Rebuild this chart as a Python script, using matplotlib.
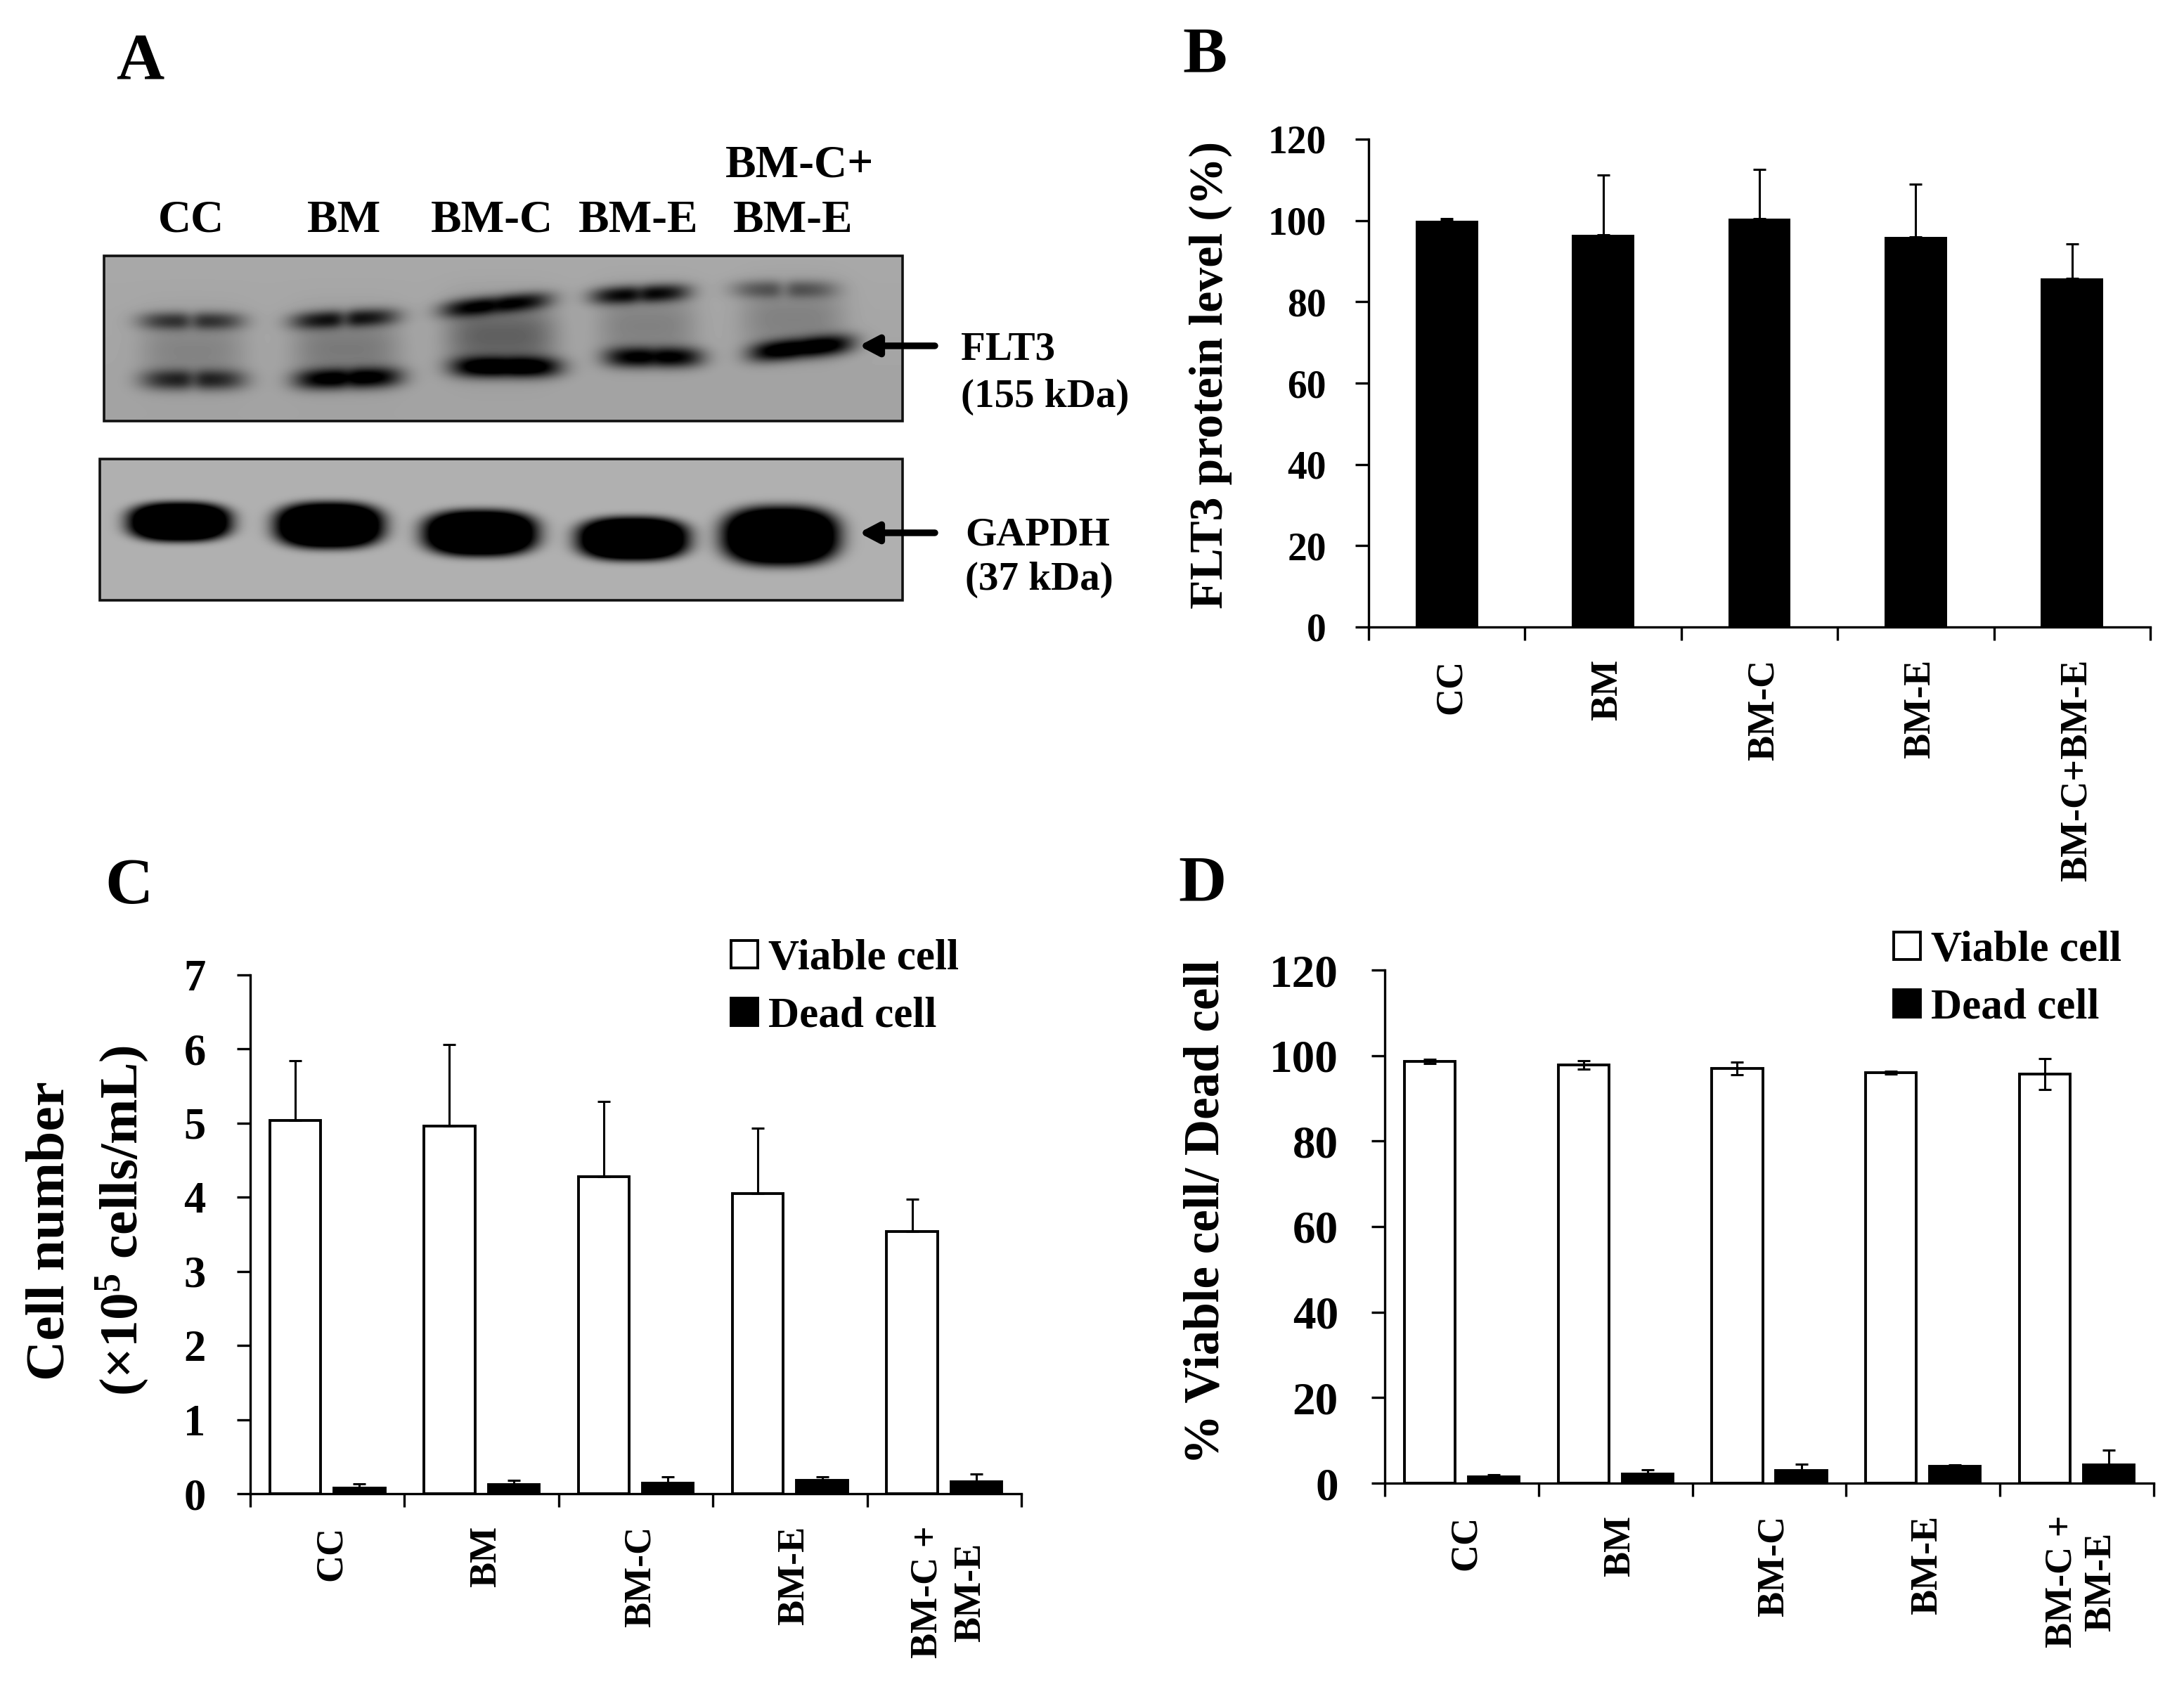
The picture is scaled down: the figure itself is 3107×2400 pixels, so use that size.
import numpy as np
import matplotlib
matplotlib.use('Agg')
import matplotlib.pyplot as plt
from matplotlib.patches import Patch, Rectangle

plt.rcParams['font.family'] = ['Liberation Serif', 'DejaVu Serif']
plt.rcParams['font.weight'] = 'bold'
plt.rcParams['mathtext.fontset'] = 'custom'
plt.rcParams['mathtext.rm'] = 'Liberation Serif:bold'
plt.rcParams['mathtext.default'] = 'rm'

W, H = 3107, 2400
DPI = 200

# panel B
labels_b = ['CC', 'BM', 'BM-C', 'BM-E', 'BM-C+BM-E']
flt3 = [100.0, 96.5, 100.4, 96.0, 85.8]
flt3_err = [0.5, 14.7, 12.1, 13.0, 8.5]

# panel C
labels_cd = ['CC', 'BM', 'BM-C', 'BM-E', 'BM-C +\nBM-E']
cell_viable = [5.04, 4.96, 4.28, 4.05, 3.54]
cell_viable_err = [0.80, 1.10, 1.01, 0.88, 0.43]
cell_dead = [0.08, 0.12, 0.14, 0.18, 0.16]
cell_dead_err = [0.05, 0.06, 0.09, 0.05, 0.11]

# panel D
pct_viable = [98.6, 97.8, 97.0, 96.0, 95.7]
pct_viable_err = [0.5, 1.0, 1.5, 0.3, 3.6]
pct_dead = [1.4, 2.1, 2.9, 3.9, 4.2]
pct_dead_err = [0.6, 1.0, 1.5, 0.3, 3.6]

# panel A, blot bands: lane centre x, band centre y, darkness, tilt, notch between lobes
flt3_x_up = [272, 490, 705, 910, 1115]
flt3_y_up = [456, 453, 433, 418, 411]
flt3_s_up = [0.62, 0.80, 0.90, 0.90, 0.42]
flt3_t_up = [0.0, -0.05, -0.10, -0.05, 0.0]
flt3_n_up = [0.35, 0.35, 0.10, 0.20, 0.45]
flt3_x_lo = [275, 495, 720, 930, 1140]
flt3_y_lo = [540, 538, 522, 508, 495]
flt3_s_lo = [0.72, 1.05, 1.15, 1.00, 1.15]
flt3_t_lo = [0.0, -0.03, 0.0, 0.0, -0.10]
flt3_n_lo = [0.30, 0.15, 0.05, 0.10, 0.05]
flt3_smear = [0.20, 0.26, 0.42, 0.22, 0.22]
flt3_hw = [74, 76, 78, 70, 74]

gapdh_x = [255, 468, 683, 900, 1110]
gapdh_y = [742, 747, 758, 766, 762]
gapdh_hw = [74, 78, 82, 80, 84]
gapdh_hh = [28, 33, 33, 31, 42]


def px_axes(fig, left, top, right, bottom):
    return fig.add_axes([left / W, 1 - bottom / H, (right - left) / W, (bottom - top) / H])


def band(X, Y, x0, y0, hw, hh, s, tilt=0.0, notch=0.0):
    dy = Y - y0 - tilt * (X - x0)
    lobes = 1 - notch * np.exp(-((X - x0) / 12.0) ** 2)
    return s * lobes * np.exp(-np.abs((X - x0) / hw) ** 4) * np.exp(-np.abs(dy / hh) ** 2.2)


def blob(X, Y, x0, y0, hw, hh):
    r = (np.abs((X - x0) / hw) ** 2.6 + np.abs((Y - y0) / hh) ** 2.6) ** (1 / 2.6)
    return 1.7 * np.exp(-r ** 5)


def style(ax, ymax, step, tick_size, y_pad, label_size, labels, label_pad, spacing=1.0):
    ax.set_xlim(0, 5)
    ax.set_ylim(0, ymax)
    ax.set_yticks(np.arange(0, ymax + 1, step))
    ax.set_xticks(range(6))
    ax.set_xticklabels([])
    ax.set_xticks(np.arange(5) + 0.53, minor=True)
    ax.set_xticklabels(labels, minor=True, rotation=90, fontsize=label_size,
                       va='top', ha='center', multialignment='center', linespacing=spacing)
    ax.tick_params(axis='x', which='minor', length=0, pad=label_pad)
    ax.tick_params(axis='x', which='major', length=6.8, width=1.2)
    ax.tick_params(axis='y', length=6.8, width=1.2, labelsize=tick_size, pad=y_pad)
    for s in ['top', 'right']:
        ax.spines[s].set_visible(False)
    for s in ['left', 'bottom']:
        ax.spines[s].set_linewidth(1.2)


def grouped(ax, viable, viable_err, dead, dead_err, both_ways):
    x = np.arange(5) + 0.5
    w = 0.33
    off = 0.208
    low = viable_err if both_ways else [0] * 5
    ax.bar(x - off, viable, w, color='white', edgecolor='black', linewidth=1.4,
           yerr=[low, viable_err], capsize=3.2,
           error_kw=dict(ecolor='black', elinewidth=1.1, capthick=1.1))
    ax.bar(x + off, dead, w, color='black', edgecolor='black', linewidth=1.4,
           yerr=[[0] * 5, dead_err], capsize=3.2,
           error_kw=dict(ecolor='black', elinewidth=1.1, capthick=1.1))


def legend(ax, x, y):
    handles = [Patch(facecolor='white', edgecolor='black', linewidth=1.4, label='Viable cell'),
               Patch(facecolor='black', edgecolor='black', linewidth=1.4, label='Dead cell')]
    ax.legend(handles=handles, loc='upper left', bbox_to_anchor=(x / W, 1 - y / H),
              bbox_transform=fig.transFigure, frameon=False, fontsize=22,
              handlelength=0.62, handleheight=0.6, handletextpad=0.24,
              labelspacing=0.42, borderaxespad=0, borderpad=0)


fig = plt.figure(figsize=(W / DPI, H / DPI), dpi=DPI)

# overlay in pixel coordinates for panel A and free text
bg = fig.add_axes([0, 0, 1, 1])
bg.set_xlim(0, W)
bg.set_ylim(H, 0)
bg.axis('off')

# FLT3 blot
x1, x2, y1, y2 = 148, 1284, 364, 599
X, Y = np.meshgrid(np.arange(x1, x2), np.arange(y1, y2))
dark = np.zeros(X.shape)
for i in range(5):
    dark += band(X, Y, flt3_x_up[i], flt3_y_up[i], flt3_hw[i], 13, flt3_s_up[i],
                 flt3_t_up[i], flt3_n_up[i])
    dark += band(X, Y, flt3_x_lo[i], flt3_y_lo[i], flt3_hw[i], 15, flt3_s_lo[i],
                 flt3_t_lo[i], flt3_n_lo[i])
    dark += band(X, Y, (flt3_x_up[i] + flt3_x_lo[i]) / 2, (flt3_y_up[i] + flt3_y_lo[i]) / 2,
                 flt3_hw[i], 46, flt3_smear[i])
blot = (0.66 - 0.0001 * (Y - y1)) * (1 - np.clip(dark, 0, 1))
bg.imshow(blot, cmap='gray', vmin=0, vmax=1, extent=(x1, x2, y2, y1), aspect='auto',
          interpolation='bilinear')
bg.add_patch(Rectangle((x1, y1), x2 - x1, y2 - y1, fill=False, ec='#111111', lw=1.3))

# GAPDH blot
x1, x2, y1, y2 = 142, 1284, 653, 854
X, Y = np.meshgrid(np.arange(x1, x2), np.arange(y1, y2))
dark = np.zeros(X.shape)
for i in range(5):
    dark += blob(X, Y, gapdh_x[i], gapdh_y[i], gapdh_hw[i], gapdh_hh[i])
blot = 0.69 * (1 - np.clip(dark, 0, 1))
bg.imshow(blot, cmap='gray', vmin=0, vmax=1, extent=(x1, x2, y2, y1), aspect='auto',
          interpolation='bilinear')
bg.add_patch(Rectangle((x1, y1), x2 - x1, y2 - y1, fill=False, ec='#111111', lw=1.3))
bg.set_xlim(0, W)
bg.set_ylim(H, 0)

for y in [492, 758]:
    bg.annotate('', xy=(1222, y), xytext=(1330, y),
                arrowprops=dict(arrowstyle='-|>,head_length=0.8,head_width=0.42', color='black',
                                lw=3.4, shrinkA=0, shrinkB=0))

for t, x, y in [('CC', 272, 314), ('BM', 490, 314), ('BM-C', 700, 314), ('BM-E', 908, 314),
                ('BM-E', 1128, 314), ('BM-C+', 1138, 236)]:
    bg.text(x, y, t, fontsize=23.5, ha='center', va='center')
for t, x, y in [('FLT3', 1367, 497), ('(155 kDa)', 1367, 565), ('GAPDH', 1373, 761),
                ('(37 kDa)', 1373, 825)]:
    bg.text(x, y, t, fontsize=20.5, ha='left', va='center')

for t, x, y in [('A', 199, 90), ('B', 1714, 80), ('C', 184, 1263), ('D', 1710, 1259)]:
    bg.text(x, y, t, fontsize=34, ha='center', va='center')

# panel B
ax = px_axes(fig, 1947, 198, 3059, 892)
ax.patch.set_alpha(0)
ax.bar(np.arange(5) + 0.5, flt3, 0.40, color='black',
       yerr=[[0] * 5, flt3_err], capsize=3.2,
       error_kw=dict(ecolor='black', elinewidth=1.1, capthick=1.1))
style(ax, 120, 20, 20, 14.8, 19.5, labels_b, 16.5)
bg.text(1722, 533, 'FLT3 protein level (%)', fontsize=24.4, rotation=90, ha='center', va='center')

# panel C
ax = px_axes(fig, 356, 1387, 1453, 2125)
ax.patch.set_alpha(0)
grouped(ax, cell_viable, cell_viable_err, cell_dead, cell_dead_err, False)
style(ax, 7, 1, 22.5, 16, 19.5, labels_cd, 16.5, spacing=1.3)
legend(ax, 1040, 1336)
bg.text(72, 1751, 'Cell number', fontsize=28.6, rotation=90, ha='center', va='center')
bg.text(174, 1737, '(×10$^{5}$ cells/mL)', fontsize=27.8, rotation=90, ha='center', va='center')

# panel D
ax = px_axes(fig, 1970, 1380, 3064, 2110)
ax.patch.set_alpha(0)
grouped(ax, pct_viable, pct_viable_err, pct_dead, pct_dead_err, True)
style(ax, 120, 20, 23.5, 17.0, 19.5, labels_cd, 16.5, spacing=1.15)
legend(ax, 2694, 1324)
bg.text(1716, 1724, '% Viable cell/ Dead cell', fontsize=25.6, rotation=90, ha='center', va='center')

fig.savefig('out.png', dpi=DPI)
